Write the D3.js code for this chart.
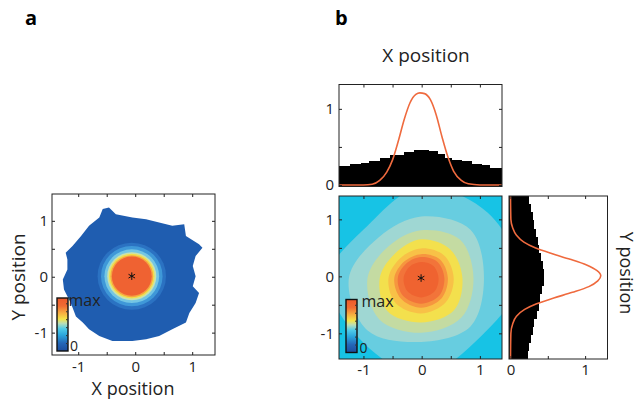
<!DOCTYPE html>
<html>
<head>
<meta charset="utf-8">
<script src="https://d3js.org/d3.v7.min.js"></script>
<style>
body { margin: 0; background: #fff; }
svg { display: block; font-family: "Open Sans", sans-serif; }
</style>
</head>
<body>
<svg></svg>
<script>
// panel a: outline of the visited region (x, y)
var blobX = [-0.57, -0.46, -0.34, -0.05, 0.19, 0.42, 0.65, 0.86, 0.89, 1.12, 1.18, 1.06, 1.01, 1.06, 1.01, 1.12, 1.06, 0.95, 0.89, 0.65, 0.42, 0.19, -0.05, -0.40, -0.63, -0.81, -0.92, -1.04, -1.13, -1.19, -1.25, -1.27, -1.19, -1.19, -1.22, -1.10, -0.95, -0.81, -0.63];
var blobY = [1.21, 1.24, 1.12, 1.06, 1.03, 0.97, 0.91, 0.94, 0.73, 0.58, 0.52, 0.37, 0.19, 0.01, -0.17, -0.29, -0.47, -0.65, -0.82, -0.94, -1.06, -1.12, -1.15, -1.15, -1.06, -0.94, -0.82, -0.71, -0.47, -0.35, -0.23, -0.05, 0.13, 0.31, 0.43, 0.55, 0.73, 0.91, 1.06];
// panel a: rings round the peak, outside in
var ringR = [0.6, 0.54, 0.48, 0.43, 0.40, 0.375, 0.35];
var peakA = [-0.06, 0.01];

// panel b: contour levels, radius at each angle (deg), outside in
var levelAngles = [0, 45, 90, 135, 180, 225, 270, 315];
var levelR = [
  [1.7, 1.62, 1.6, 1.3, 1.6, 1.5, 1.7, 1.45],
  [1.08, 1.2, 1.08, 1.02, 1.24, 1.3, 1.12, 1.2],
  [0.9, 0.95, 0.84, 0.79, 0.92, 1.02, 0.96, 0.98],
  [0.71, 0.71, 0.68, 0.62, 0.71, 0.82, 0.78, 0.8],
  [0.56, 0.56, 0.52, 0.5, 0.56, 0.62, 0.62, 0.6],
  [0.46, 0.46, 0.42, 0.41, 0.46, 0.5, 0.52, 0.5],
  [0.4, 0.4, 0.37, 0.36, 0.4, 0.44, 0.45, 0.44],
  [0.3, 0.3, 0.28, 0.28, 0.3, 0.33, 0.34, 0.33]
];
var peakB = [-0.01, -0.03];

// marginals
var xHistEdges = [-1.42, -1.23, -1.05, -0.91, -0.71, -0.54, -0.31, -0.14, 0.11, 0.28, 0.4, 0.51, 0.68, 0.85, 1.03, 1.17, 1.38];
var xHist = [0.244, 0.27, 0.29, 0.32, 0.355, 0.39, 0.435, 0.456, 0.443, 0.403, 0.36, 0.33, 0.31, 0.28, 0.257, 0.227];
var yHistEdges = [-1.45, -1.307, -1.164, -1.021, -0.878, -0.735, -0.592, -0.449, -0.306, -0.163, -0.02, 0.123, 0.266, 0.409, 0.552, 0.695, 0.838, 0.981, 1.124, 1.267, 1.41];
var yHist = [0.238, 0.25, 0.27, 0.295, 0.32, 0.35, 0.38, 0.40, 0.428, 0.445, 0.445, 0.43, 0.405, 0.385, 0.365, 0.34, 0.315, 0.295, 0.27, 0.245];
var xCurveX = [-1.42, -1.0, -0.85, -0.72, -0.6, -0.5, -0.4, -0.3, -0.2, -0.1, -0.03, 0.05, 0.15, 0.25, 0.35, 0.45, 0.55, 0.68, 0.8, 1.0, 1.38];
var xCurveV = [0, 0, 0.01, 0.06, 0.17, 0.33, 0.58, 0.86, 1.08, 1.19, 1.21, 1.2, 1.12, 0.92, 0.63, 0.37, 0.18, 0.06, 0.015, 0, 0];
var yCurveY = [1.41, 1.0, 0.85, 0.72, 0.6, 0.5, 0.4, 0.3, 0.2, 0.1, 0.01, -0.08, -0.18, -0.28, -0.38, -0.48, -0.58, -0.7, -0.83, -1.0, -1.45];
var yCurveV = [0, 0.005, 0.03, 0.08, 0.18, 0.33, 0.55, 0.8, 1.02, 1.16, 1.21, 1.17, 1.05, 0.83, 0.58, 0.35, 0.19, 0.08, 0.03, 0.005, 0];

var posTicks = [-1, -0.5, 0, 0.5, 1];
var valTicks = [0, 0.5, 1];

var ringColor = ["#2b72c2", "#3f98d8", "#74c6e4", "#c9e2ae", "#f2de4a", "#f6a342", "#ef6232"];
var levelColor = ["#67cde0", "#9fd7d3", "#c4dba2", "#f3e04d", "#f8c147", "#f6963f", "#f2743a", "#ef6330"];
var cbarStops = [[0, "#1c4c9c"], [0.15, "#2467b8"], [0.3, "#2aa6dc"], [0.42, "#4fcbe8"], [0.52, "#b8deb8"], [0.6, "#f3e44a"], [0.72, "#f7ac40"], [0.85, "#f06c33"], [1, "#ee5a2c"]];

var svg = d3.select("svg")
    .attr("width", 640)
    .attr("height", 404);

var xA = d3.scaleLinear().domain([-1.46, 1.4]).range([52, 215]);
var yA = d3.scaleLinear().domain([-1.4, 1.48]).range([355, 194]);
var xB = d3.scaleLinear().domain([-1.42, 1.38]).range([339, 502]);
var yB = d3.scaleLinear().domain([-1.45, 1.41]).range([359, 196]);
var vT = d3.scaleLinear().domain([-0.02, 1.32]).range([186.5, 84.5]);
var vR = d3.scaleLinear().domain([-0.02, 1.3]).range([509, 607.5]);

var defs = svg.append("defs");
defs.append("linearGradient")
  .attr("id", "cbar")
  .attr("x1", 0).attr("y1", 1).attr("x2", 0).attr("y2", 0)
  .selectAll("stop")
  .data(cbarStops)
  .join("stop")
  .attr("offset", function(d) { return d[0]; })
  .attr("stop-color", function(d) { return d[1]; });

function clip(id, x, y) {
  defs.append("clipPath").attr("id", id)
    .append("rect")
    .attr("x", x.range()[0]).attr("y", y.range()[1])
    .attr("width", x.range()[1] - x.range()[0])
    .attr("height", y.range()[0] - y.range()[1]);
  return "url(#" + id + ")";
}

function frame(x, y) {
  svg.append("rect")
    .attr("x", x.range()[0]).attr("y", y.range()[1])
    .attr("width", x.range()[1] - x.range()[0])
    .attr("height", y.range()[0] - y.range()[1])
    .attr("fill", "none")
    .attr("stroke", "#222");
}

function axis(gen, tx, ty, pad, labelled) {
  var g = svg.append("g")
    .attr("transform", "translate(" + [tx, ty] + ")")
    .call(gen.tickSizeInner(-3).tickSizeOuter(0).tickPadding(pad)
      .tickFormat(function(d) { return labelled && d % 1 === 0 ? String(d) : ""; }));
  g.select(".domain").remove();
  g.attr("font-size", 15).attr("font-family", null);
  g.selectAll("line").attr("stroke", "#222");
  g.selectAll("text").attr("fill", "#222");
}

function colorbar(x, y, w, h, maxX, maxY, zeroX, zeroY) {
  svg.append("rect")
    .attr("x", x).attr("y", y).attr("width", w).attr("height", h)
    .attr("fill", "url(#cbar)")
    .attr("stroke", "#111")
    .attr("stroke-width", 1.4);
  var cb = d3.scaleLinear().domain([0, 1]).range([y + h, y]);
  var g = svg.append("g").attr("transform", "translate(" + (x + w) + ",0)")
    .call(d3.axisRight(cb).tickValues([0.15, 0.3, 0.45, 0.6, 0.75, 0.9]).tickSize(-2).tickFormat(""));
  g.select(".domain").remove();
  g.selectAll("line").attr("stroke", "#333");
  svg.append("text").attr("x", maxX).attr("y", maxY).attr("font-size", 16).attr("fill", "#222").text("max");
  svg.append("text").attr("x", zeroX).attr("y", zeroY).attr("font-size", 14).attr("fill", "#222").text("0");
}

var star = d3.symbol().type(d3.symbolAsterisk).size(40);

// ---- panel a
var blobLine = d3.line()
  .x(function(d, i) { return xA(blobX[i]); })
  .y(function(d, i) { return yA(blobY[i]); })
  .curve(d3.curveLinearClosed);

svg.append("path")
  .attr("d", blobLine(blobX))
  .attr("fill", "#1f5db0");

svg.selectAll(".ring")
  .data(ringR)
  .enter()
  .append("ellipse")
  .attr("class", "ring")
  .attr("cx", xA(peakA[0]))
  .attr("cy", yA(peakA[1]))
  .attr("rx", function(d) { return xA(d) - xA(0); })
  .attr("ry", function(d) { return yA(0) - yA(d); })
  .attr("fill", function(d, i) { return ringColor[i]; });

svg.append("path")
  .attr("d", star())
  .attr("transform", "translate(" + [xA(peakA[0]), yA(peakA[1])] + ")")
  .attr("fill", "none")
  .attr("stroke", "#111");

frame(xA, yA);
axis(d3.axisBottom(xA).tickValues(posTicks), 0, 355, 6, true);
axis(d3.axisTop(xA).tickValues(posTicks), 0, 194, 0, false);
axis(d3.axisLeft(yA).tickValues(posTicks), 52, 0, 4, true);
axis(d3.axisRight(yA).tickValues(posTicks), 215, 0, 0, false);
colorbar(57, 298, 11, 53, 68.5, 305.5, 70, 351);

// ---- panel b, main
var levelLine = d3.line().curve(d3.curveCatmullRomClosed);
function levelPoints(r) {
  return levelAngles.map(function(a, i) {
    var t = a * Math.PI / 180;
    return [xB(peakB[0] + r[i] * Math.cos(t)), yB(peakB[1] + r[i] * Math.sin(t))];
  });
}

var mainG = svg.append("g").attr("clip-path", clip("clipB", xB, yB));
mainG.append("rect")
  .attr("x", 339).attr("y", 196).attr("width", 163).attr("height", 163)
  .attr("fill", "#17c3e5");
mainG.selectAll(".level")
  .data(levelR)
  .enter()
  .append("path")
  .attr("class", "level")
  .attr("d", function(d) { return levelLine(levelPoints(d)); })
  .attr("fill", function(d, i) { return levelColor[i]; });

svg.append("path")
  .attr("d", star())
  .attr("transform", "translate(" + [xB(peakB[0]), yB(peakB[1])] + ")")
  .attr("fill", "none")
  .attr("stroke", "#111");

frame(xB, yB);
axis(d3.axisBottom(xB).tickValues(posTicks), 0, 359, 5, true);
axis(d3.axisTop(xB).tickValues(posTicks), 0, 196, 0, false);
axis(d3.axisLeft(yB).tickValues(posTicks), 339, 0, 5, true);
axis(d3.axisRight(yB).tickValues(posTicks), 502, 0, 0, false);
colorbar(346, 299.5, 11, 53, 361.5, 307, 359.5, 353);

// ---- panel b, top marginal
var topG = svg.append("g").attr("clip-path", clip("clipT", xB, vT));
topG.selectAll("rect")
  .data(xHist)
  .enter()
  .append("rect")
  .attr("x", function(d, i) { return xB(xHistEdges[i]); })
  .attr("width", function(d, i) { return xB(xHistEdges[i + 1]) - xB(xHistEdges[i]) + 0.5; })
  .attr("y", function(d) { return vT(d); })
  .attr("height", function(d) { return vT.range()[0] - vT(d); })
  .attr("fill", "#000")
  .attr("shape-rendering", "crispEdges");

var xCurve = d3.line()
  .x(function(d, i) { return xB(xCurveX[i]); })
  .y(function(d, i) { return vT(xCurveV[i]); })
  .curve(d3.curveMonotoneX);
topG.append("path")
  .attr("d", xCurve(xCurveX))
  .attr("fill", "none")
  .attr("stroke", "#ef6a3e")
  .attr("stroke-width", 1.6);

frame(xB, vT);
axis(d3.axisLeft(vT).tickValues(valTicks), 339, 0, 5, true);
axis(d3.axisRight(vT).tickValues(valTicks), 502, 0, 0, false);
axis(d3.axisTop(xB).tickValues(posTicks), 0, 84.5, 0, false);

// ---- panel b, right marginal
var rightG = svg.append("g").attr("clip-path", clip("clipR", vR, yB));
rightG.selectAll("rect")
  .data(yHist)
  .enter()
  .append("rect")
  .attr("x", vR.range()[0])
  .attr("width", function(d) { return vR(d) - vR.range()[0]; })
  .attr("y", function(d, i) { return yB(yHistEdges[i + 1]); })
  .attr("height", function(d, i) { return yB(yHistEdges[i]) - yB(yHistEdges[i + 1]) + 0.5; })
  .attr("fill", "#000")
  .attr("shape-rendering", "crispEdges");

var yCurve = d3.line()
  .x(function(d, i) { return vR(yCurveV[i]); })
  .y(function(d, i) { return yB(yCurveY[i]); })
  .curve(d3.curveMonotoneY);
rightG.append("path")
  .attr("d", yCurve(yCurveY))
  .attr("fill", "none")
  .attr("stroke", "#ef6a3e")
  .attr("stroke-width", 1.6);

frame(vR, yB);
axis(d3.axisBottom(vR).tickValues(valTicks), 0, 359, 5, true);
axis(d3.axisTop(vR).tickValues(valTicks), 0, 196, 0, false);

// ---- text
svg.append("text").attr("x", 25).attr("y", 25).attr("font-size", 20).attr("font-weight", "bold").text("a");
svg.append("text").attr("x", 335).attr("y", 25).attr("font-size", 20).attr("font-weight", "bold").text("b");
svg.append("text").attr("x", 133).attr("y", 395).attr("font-size", 18).attr("text-anchor", "middle").attr("fill", "#222").text("X position");
svg.append("text").attr("transform", "translate(25,277) rotate(-90)").attr("font-size", 19).attr("text-anchor", "middle").attr("fill", "#222").text("Y position");
svg.append("text").attr("x", 426).attr("y", 62).attr("font-size", 19).attr("text-anchor", "middle").attr("fill", "#222").text("X position");
svg.append("text").attr("transform", "translate(620,273) rotate(90)").attr("font-size", 18).attr("text-anchor", "middle").attr("fill", "#222").text("Y position");
</script>
</body>
</html>
